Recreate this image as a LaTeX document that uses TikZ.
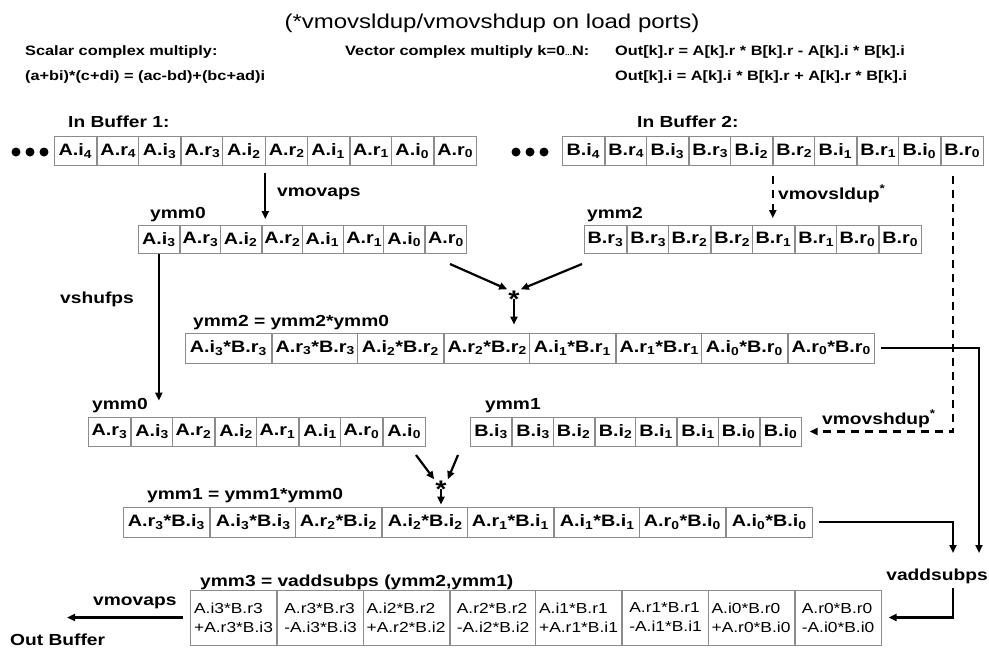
\documentclass[tikz,border=0pt]{standalone}
\usepackage{fontspec}
\setmainfont{Liberation Sans}[FakeStretch=1.2]
\usetikzlibrary{arrows.meta,positioning}
\definecolor{grid}{HTML}{8C8C8C}

\begin{document}
\begin{tikzpicture}[x=1pt, y=-1pt,
  >={Triangle[length=8pt,width=7pt]},
  cell/.style={draw=grid, line width=0.8pt, fill=white, inner sep=0pt, anchor=west, minimum height=29pt, font=\bfseries\fontsize{16.5}{18}\selectfont},
  pcell/.style={cell, minimum width=86pt, minimum height=30pt, font=\bfseries\fontsize{16.5}{18}\selectfont},
  rescell/.style={cell, minimum width=86.25pt, minimum height=55pt, align=left, font=\fontsize{14.5}{19}\selectfont},
  lbl/.style={inner sep=0pt, anchor=base west, font=\bfseries\fontsize{16}{18}\selectfont},
  hdr/.style={inner sep=0pt, anchor=base west, font=\bfseries\fontsize{13.6}{15}\selectfont},
  dot/.style={circle, fill=black, inner sep=0pt, minimum size=9pt},
  star/.style={inner sep=1pt, anchor=base, font=\bfseries\fontsize{24}{24}\selectfont},
  arr/.style={->, line width=2.2pt},
  dasharr/.style={arr, dash pattern=on 8pt off 6pt, line width=2.4pt}]
  \path[use as bounding box, fill=white] (0,0) rectangle (989,649);

  % formulas on top
  \node[inner sep=0pt, anchor=base, font=\fontsize{20}{22}\selectfont] (title) at (492,28) {(*vmovsldup/vmovshdup on load ports)};
  \node[hdr] (scal) at (25,55) {Scalar complex multiply:};
  \node[hdr] (scalf) at (25,80) {(a+bi)*(c+di) = (ac-bd)+(bc+ad)i};
  \node[hdr] (vec) at (345,55) {Vector complex multiply k=0{\fontsize{7}{7}\selectfont...}N:};
  \node[hdr] (outr) at (615,55) {Out[k].r = A[k].r * B[k].r - A[k].i * B[k].i};
  \node[hdr] (outi) at (615,80) {Out[k].i = A[k].i * B[k].r + A[k].r * B[k].i};

  % input buffers
  \node[lbl] (inA) at (68,127) {In Buffer 1:};
  \node[lbl] (inB) at (637,127) {In Buffer 2:};
  \foreach \x [count=\n] in {16,30,44} {
    \node[dot] (dA-\n) at (\x,152) {};
    \node[dot] (dB-\n) at (\x+500,152) {};
  }
  \foreach \j [count=\n, evaluate=\n as \na using int(2*\n-1), evaluate=\n as \nb using int(2*\n)] in {4,...,0} {
    \node[cell, minimum width=42.1pt] (bA-\na) at ({54+(\na-1)*42.1},151) {A.i\textsubscript{\j}};
    \node[cell, minimum width=42.1pt, right=0pt of bA-\na] (bA-\nb) {A.r\textsubscript{\j}};
    \node[cell, minimum width=42pt] (bB-\na) at ({562+(\na-1)*42},151) {B.i\textsubscript{\j}};
    \node[cell, minimum width=42pt, right=0pt of bB-\na] (bB-\nb) {B.r\textsubscript{\j}};
  }

  % first loads
  \node[lbl] (lya) at (150,218) {ymm0};
  \node[lbl] (lyb) at (587,218) {ymm2};
  \foreach \j [count=\n, evaluate=\n as \na using int(2*\n-1), evaluate=\n as \nb using int(2*\n)] in {3,...,0} {
    \node[cell, minimum width=40.9pt, minimum height=28pt] (ya-\na) at ({138+(\na-1)*40.9},239.5) {A.i\textsubscript{\j}};
    \node[cell, minimum width=40.9pt, minimum height=28pt, right=0pt of ya-\na] (ya-\nb) {A.r\textsubscript{\j}};
    \node[cell, minimum width=42pt, minimum height=28pt] (yb-\na) at ({584+(\na-1)*42},239.5) {B.r\textsubscript{\j}};
    \node[cell, minimum width=42pt, minimum height=28pt, right=0pt of yb-\na] (yb-\nb) {B.r\textsubscript{\j}};
  }
  \draw[arr, shorten <=7pt, shorten >=6pt] (bA-5.south east) -- (bA-5.south east |- ya-4.north);
  \node[lbl] (mva) at (277,196) {vmovaps};
  \draw[dasharr, shorten <=10pt, shorten >=7pt] (bB-5.south east) -- (bB-5.south east |- yb-5.north);
  \node[lbl] (msl) at (778,199) {vmovsldup\textsuperscript{*}};

  % first multiply
  \node[lbl] (lpa) at (193,326) {ymm2 = ymm2*ymm0};
  \foreach \j [count=\n, evaluate=\n as \na using int(2*\n-1), evaluate=\n as \nb using int(2*\n)] in {3,...,0} {
    \node[pcell] (pA-\na) at ({185+(\na-1)*86},348) {A.i\textsubscript{\j}*B.r\textsubscript{\j}};
    \node[pcell, right=0pt of pA-\na] (pA-\nb) {A.r\textsubscript{\j}*B.r\textsubscript{\j}};
  }
  \node[star] (st1) at (514,307) {*};
  \coordinate (fa1) at (450,264);
  \coordinate (fb1) at (582,264);
  \draw[arr] (fa1) -- (st1.north west);
  \draw[arr] (fb1) -- (st1.north east);
  \draw[arr, shorten >=8pt] ([yshift=9pt]st1.south) -- (st1.south |- pA-4.north);

  % shuffle and second load
  \node[lbl] (lyc) at (92,409) {ymm0};
  \node[lbl] (lyd) at (485,409) {ymm1};
  \foreach \j [count=\n, evaluate=\n as \na using int(2*\n-1), evaluate=\n as \nb using int(2*\n)] in {3,...,0} {
    \node[cell, minimum width=42pt] (yc-\na) at ({88+(\na-1)*42},431.5) {A.r\textsubscript{\j}};
    \node[cell, minimum width=42pt, right=0pt of yc-\na] (yc-\nb) {A.i\textsubscript{\j}};
    \node[cell, minimum width=41.25pt] (yd-\na) at ({470+(\na-1)*41.25},431.5) {B.i\textsubscript{\j}};
    \node[cell, minimum width=41.25pt, right=0pt of yd-\na] (yd-\nb) {B.i\textsubscript{\j}};
  }
  \draw[arr, shorten >=16pt] (ya-1.south) -- (ya-1.south |- yc-2.north);
  \node[lbl, anchor=base east] (shuf) at (134,303) {vshufps};
  \draw[dasharr, shorten <=10pt, shorten >=8pt] ([xshift=-9pt]bB-10.south) |- (yd-8.east);
  \node[lbl] (msh) at (822,424) {vmovshdup\textsuperscript{*}};

  % second multiply
  \node[lbl] (lpb) at (147,499) {ymm1 = ymm1*ymm0};
  \foreach \j [count=\n, evaluate=\n as \na using int(2*\n-1), evaluate=\n as \nb using int(2*\n)] in {3,...,0} {
    \node[pcell] (pB-\na) at ({123+(\na-1)*86},522) {A.r\textsubscript{\j}*B.i\textsubscript{\j}};
    \node[pcell, right=0pt of pB-\na] (pB-\nb) {A.i\textsubscript{\j}*B.i\textsubscript{\j}};
  }
  \node[star] (st2) at (441,497) {*};
  \coordinate (fa2) at (416,455);
  \coordinate (fb2) at (458,455);
  \draw[arr] (fa2) -- (st2.north west);
  \draw[arr] (fb2) -- (st2.north east);
  \draw[arr, shorten >=2pt] ([yshift=9pt]st2.south) -- (st2.south |- pB-4.north);

  % add/sub and store
  \coordinate (inL) at (953,553);
  \coordinate (inR) at (979,553);
  \draw[arr, shorten <=6pt] (pA-8.east) -| (inR);
  \draw[arr, shorten <=6pt] (pB-8.east) -| (inL);
  \node[lbl, anchor=base] (vadd) at (937,580) {vaddsubps};
  \node[lbl] (lrs) at (200,586) {ymm3 = vaddsubps (ymm2,ymm1)};
  \foreach \j [count=\n, evaluate=\n as \na using int(2*\n-1), evaluate=\n as \nb using int(2*\n)] in {3,...,0} {
    \node[rescell] (rs-\na) at ({190+(\na-1)*86.25},617.5) {A.i\j*B.r\j\\+A.r\j*B.i\j};
    \node[rescell, right=0pt of rs-\na] (rs-\nb) {A.r\j*B.r\j\\-A.i\j*B.i\j};
  }
  \draw[arr, shorten <=4pt, shorten >=7pt] (vadd.south -| inL) |- (rs-8.east);
  \coordinate (outc) at (67,620);
  \draw[arr, shorten <=7pt] (rs-1.west) -- (rs-1.west -| outc);
  \node[lbl] (mvo) at (93,605) {vmovaps};
  \node[lbl] (outb) at (10,645) {Out Buffer};
\end{tikzpicture}
\end{document}
